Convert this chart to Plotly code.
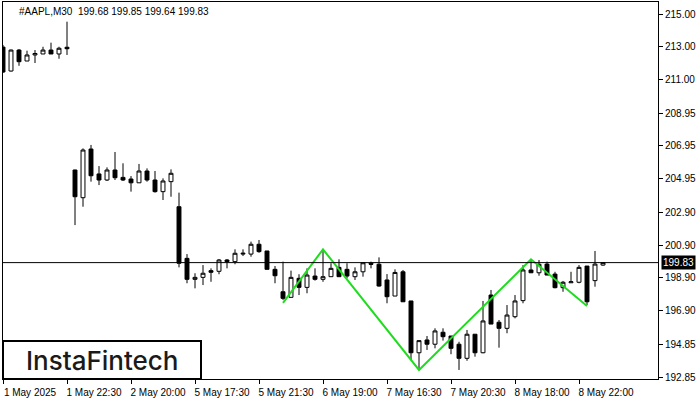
import plotly.graph_objects as go

# ---- data ----
symbol = "#AAPL,M30"
bar_index = list(range(76))
opens = [212.98, 211.52, 212.80, 212.13, 212.50, 212.56, 212.80, 212.56, 212.97, 205.48,
         203.79, 206.76, 205.24, 204.87, 205.48, 205.03, 204.93, 204.70, 205.42, 204.87,
         204.16, 204.77, 203.24, 200.09, 198.81, 198.93, 199.34, 199.30, 199.99, 199.89,
         200.35, 200.35, 200.95, 200.54, 199.42, 198.05, 197.71, 198.87, 198.32, 199.01,
         198.81, 198.97, 199.54, 199.42, 198.97, 199.27, 199.79, 199.73, 198.77, 197.79,
         199.27, 197.49, 194.33, 195.11, 194.85, 195.58, 195.35, 194.85, 193.99, 195.46,
         194.33, 197.85, 196.19, 195.82, 196.53, 197.51, 199.38, 199.21, 199.74, 199.13,
         198.30, 198.60, 198.63, 199.62, 198.73, 199.68]
highs = [213.11, 212.83, 212.86, 212.76, 212.80, 213.00, 213.25, 213.00, 214.53, 205.50,
         206.80, 207.01, 205.72, 205.64, 206.58, 205.89, 205.11, 205.85, 205.58, 205.42,
         204.97, 205.52, 204.10, 200.35, 199.18, 199.68, 199.48, 200.05, 200.05, 200.64,
         200.64, 201.11, 201.21, 200.54, 199.62, 199.89, 199.34, 199.12, 199.48, 199.48,
         200.60, 199.79, 200.03, 199.79, 199.54, 199.82, 199.89, 200.15, 199.13, 199.42,
         199.38, 197.49, 195.07, 195.35, 195.82, 195.82, 195.35, 195.00, 195.72, 195.46,
         197.49, 198.16, 196.33, 197.24, 197.85, 199.68, 199.98, 199.99, 199.89, 199.27,
         198.71, 199.27, 199.68, 199.62, 200.54, 199.85]
lows = [211.40, 211.49, 211.84, 212.13, 212.01, 212.56, 212.56, 212.27, 212.50, 202.12,
        203.24, 204.77, 204.56, 204.81, 204.87, 204.81, 204.16, 204.70, 204.77, 204.10,
        203.65, 203.85, 199.54, 198.57, 198.26, 198.46, 198.66, 199.12, 199.48, 199.73,
        200.23, 200.19, 200.43, 199.42, 198.57, 197.55, 197.71, 197.85, 197.96, 198.73,
        198.66, 198.97, 198.97, 198.87, 198.77, 198.97, 199.48, 198.36, 197.35, 197.79,
        197.44, 193.89, 193.32, 194.50, 194.60, 195.07, 194.24, 193.28, 193.84, 194.09,
        194.30, 196.08, 194.64, 195.52, 196.43, 197.35, 199.21, 199.03, 199.07, 198.26,
        198.05, 198.60, 198.57, 197.24, 198.36, 199.64]
closes = [211.46, 212.80, 212.09, 212.50, 212.59, 212.80, 212.56, 212.91, 212.88, 203.85,
          206.70, 205.13, 204.87, 205.48, 205.01, 204.87, 204.70, 205.42, 204.87, 204.16,
          204.81, 205.28, 199.79, 198.81, 198.93, 199.18, 199.24, 199.99, 199.89, 200.40,
          200.40, 200.95, 200.50, 199.42, 199.03, 197.65, 198.93, 198.32, 199.07, 198.81,
          198.97, 199.48, 198.97, 199.01, 199.27, 199.82, 199.73, 198.40, 197.75, 199.23,
          197.44, 194.33, 195.07, 194.85, 195.66, 195.31, 194.60, 193.99, 195.46, 194.33,
          196.27, 196.08, 195.82, 196.63, 197.49, 199.38, 199.21, 199.73, 199.07, 198.30,
          198.63, 198.66, 199.54, 197.44, 199.74, 199.83]

# double-bottom pattern outline (bar index, price)
pattern_x = [35, 40, 52, 66, 73]
pattern_y = [197.37, 200.64, 193.28, 200.03, 197.18]

# axis ticks
x_tick_index = [0, 8, 16, 24, 32, 40, 48, 56, 64, 72]
x_tick_labels = ["1 May 2025", "1 May 22:30", "2 May 20:00", "5 May 17:30", "5 May 21:30",
                 "6 May 19:00", "7 May 16:30", "7 May 20:30", "8 May 18:00", "8 May 22:00"]
y_tick_values = [215.00, 213.00, 211.00, 208.95, 206.95, 204.95, 202.90, 200.90,
                 198.90, 196.90, 194.85, 192.85]
y_tick_labels = ["215.00", "213.00", "211.00", "208.95", "206.95", "204.95", "202.90",
                 "200.90", "198.90", "196.90", "194.85", "192.85"]

# ---- figure ----
W, H = 700, 400
ML, MR, MT, MB = 3, 42, 2, 21
FONT = "Liberation Sans, Arial, sans-serif"

fig = go.Figure()

fig.add_trace(go.Candlestick(
    x=bar_index, open=opens, high=highs, low=lows, close=closes,
    increasing=dict(line=dict(color="black", width=1), fillcolor="white"),
    decreasing=dict(line=dict(color="black", width=1), fillcolor="black"),
    whiskerwidth=0, showlegend=False, hoverinfo="skip",
))

fig.add_trace(go.Scatter(
    x=pattern_x, y=pattern_y, mode="lines",
    line=dict(color="#1EDC1E", width=2), showlegend=False, hoverinfo="skip",
))

last_close = closes[-1]
fig.add_shape(type="line", xref="paper", x0=0, x1=1, yref="y", y0=last_close, y1=last_close,
              line=dict(color="black", width=1), layer="above")

# current price tag
fig.add_annotation(xref="paper", x=1, xshift=3, xanchor="left", yref="y", y=last_close,
                   text=f"{last_close:.2f}", showarrow=False, bgcolor="black",
                   font=dict(family=FONT, size=10, color="white"), borderpad=1)

# header text
header = f"{symbol}  {opens[-1]:.2f} {highs[-1]:.2f} {lows[-1]:.2f} {closes[-1]:.2f}"
fig.add_annotation(xref="paper", x=0, xshift=14, xanchor="left",
                   yref="paper", y=1, yshift=-9, yanchor="middle",
                   text=header, showarrow=False,
                   font=dict(family=FONT, size=10, color="black"))

# logo box
plot_w = W - ML - MR
plot_h = H - MT - MB
fig.add_shape(type="rect", xref="paper", yref="paper",
              x0=0, x1=(201 - ML) / plot_w, y0=0, y1=(379 - 341) / plot_h,
              line=dict(color="black", width=2), fillcolor="white", layer="above")
fig.add_annotation(xref="paper", yref="paper", x=(102 - ML) / plot_w, y=(379 - 360) / plot_h,
                   xanchor="center", yanchor="middle", text="InstaFintech", showarrow=False,
                   font=dict(family="Inter, sans-serif", size=26, color="#1a1a1a", weight=500))

fig.update_layout(
    width=W, height=H,
    margin=dict(l=ML, r=MR, t=MT, b=MB, pad=0),
    paper_bgcolor="white", plot_bgcolor="white",
    showlegend=False,
    xaxis=dict(
        range=[0, 81.875], rangeslider=dict(visible=False),
        showgrid=False, zeroline=False,
        showline=True, linecolor="black", linewidth=1, mirror=True,
        ticks="outside", ticklen=4, tickcolor="black", tickwidth=1,
        tickvals=x_tick_index, ticktext=x_tick_labels,
        ticklabelshift=27, ticklabelstandoff=0,
        tickfont=dict(family=FONT, size=10, color="black"),
    ),
    yaxis=dict(
        range=[192.728, 215.732], side="right",
        showgrid=False, zeroline=False,
        showline=True, linecolor="black", linewidth=1, mirror=True,
        ticks="outside", ticklen=4, tickcolor="black", tickwidth=1,
        tickvals=y_tick_values, ticktext=y_tick_labels,
        tickfont=dict(family=FONT, size=10, color="black"),
    ),
)

fig.write_html("out.html", config={"displayModeBar": False, "staticPlot": True},
               post_script="document.body.style.margin='0';document.body.style.overflow='hidden';")
